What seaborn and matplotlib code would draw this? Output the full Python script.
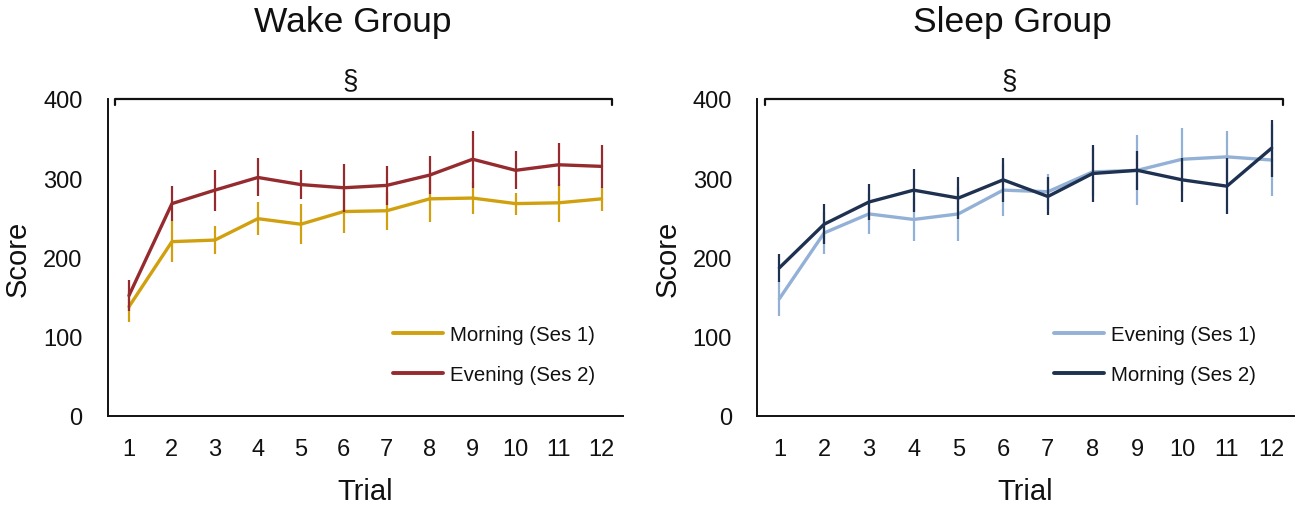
import numpy as np
import pandas as pd
import matplotlib
matplotlib.use("Agg")
import matplotlib.pyplot as plt
import seaborn as sns

# ---------------- data ----------------
trials = list(range(1, 13))

wake_morning = [138, 220, 222, 249, 242, 258, 259, 274, 275, 268, 269, 274]
wake_morning_err = [20, 26, 18, 21, 25, 27, 24, 29, 20, 14, 24, 15]
wake_evening = [152, 268, 285, 301, 292, 288, 291, 304, 324, 310, 317, 315]
wake_evening_err = [19, 22, 26, 24, 18, 30, 25, 24, 36, 24, 27, 27]

sleep_evening = [148, 231, 255, 248, 255, 285, 283, 308, 310, 324, 327, 323]
sleep_evening_err = [22, 26, 25, 27, 34, 33, 22, 30, 44, 40, 32, 45]
sleep_morning = [187, 242, 270, 285, 275, 298, 277, 306, 310, 298, 290, 338]
sleep_morning_err = [18, 25, 23, 27, 27, 28, 24, 36, 25, 28, 35, 36]

panel_titles = ["Wake Group", "Sleep Group"]
wake_labels = ["Morning (Ses 1)", "Evening (Ses 2)"]
sleep_labels = ["Evening (Ses 1)", "Morning (Ses 2)"]
wake_colors = ["#D1A00E", "#952B2E"]
sleep_colors = ["#93B1D6", "#1E3150"]
y_ticks = [0, 100, 200, 300, 400]
bracket_y = 400
sig_mark = "§"

# ---------------- style ----------------
sns.set_theme(style="white")
plt.rcParams["font.family"] = ["Liberation Sans", "DejaVu Sans"]

fig = plt.figure(figsize=(13, 5.1), dpi=100)
ax_l = fig.add_axes([107.5 / 1300, 93 / 510, 515.5 / 1300, 317 / 510])
ax_r = fig.add_axes([757 / 1300, 93 / 510, 537 / 1300, 317 / 510])


def draw_panel(ax, title, labels, colors, means, errs):
    frames = []
    for lab, m in zip(labels, means):
        frames.append(pd.DataFrame({"Trial": trials, "Score": m, "Session": lab}))
    df = pd.concat(frames, ignore_index=True)

    # error bars (no caps)
    for i, (m, e, c) in enumerate(zip(means, errs, colors)):
        ax.errorbar(trials, m, yerr=e, fmt="none", ecolor=c, elinewidth=1.6,
                    capsize=0, zorder=2 + i * 0.2)

    sns.lineplot(data=df, x="Trial", y="Score", hue="Session",
                 hue_order=labels, palette=colors, linewidth=2.4, ax=ax,
                 legend=True)
    for i, ln in enumerate(ax.get_lines()[:len(labels)]):
        ln.set_zorder(2.1 + i * 0.2)

    ax.set_xlim(0.5, 12.5)
    ax.set_ylim(0, 400)
    ax.set_xticks(trials)
    ax.set_xticklabels([str(t) for t in trials])
    ax.set_yticks(y_ticks)
    ax.tick_params(axis="both", length=0, labelsize=17, colors="#111111")
    ax.tick_params(axis="x", pad=16)
    ax.tick_params(axis="y", pad=18)
    for s in ["top", "right"]:
        ax.spines[s].set_visible(False)
    for s in ["left", "bottom"]:
        ax.spines[s].set_linewidth(1.4)
        ax.spines[s].set_color("#111111")
    ax.set_xlabel("Trial", fontsize=21, labelpad=12, color="#111111")
    ax.set_ylabel("Score", fontsize=21, labelpad=8, color="#111111")
    ax.set_title(title, fontsize=25.5, x=0.475, pad=49, color="#111111")

    # significance bracket
    ax.plot([0.67, 0.67, 12.25, 12.25], [bracket_y - 7, bracket_y, bracket_y, bracket_y - 7],
            color="#111111", lw=1.6, clip_on=False, zorder=5)
    ax.text(0.47, 1.06, sig_mark, transform=ax.transAxes, ha="center",
            va="center", fontsize=20, color="#111111")

    handles, lbls = ax.get_legend_handles_labels()
    for h in handles:
        h.set_linewidth(2.8)
    leg = ax.legend(handles, lbls, loc="center left", bbox_to_anchor=(0.553, 0.194),
                    frameon=False, fontsize=14.7, handlelength=2.45,
                    handletextpad=0.35, labelspacing=1.05, borderpad=0,
                    borderaxespad=0)
    for t in leg.get_texts():
        t.set_color("#111111")


draw_panel(ax_l, panel_titles[0], wake_labels, wake_colors,
           [wake_morning, wake_evening], [wake_morning_err, wake_evening_err])
draw_panel(ax_r, panel_titles[1], sleep_labels, sleep_colors,
           [sleep_evening, sleep_morning], [sleep_evening_err, sleep_morning_err])

fig.savefig("out.png", dpi=100, facecolor="white")
